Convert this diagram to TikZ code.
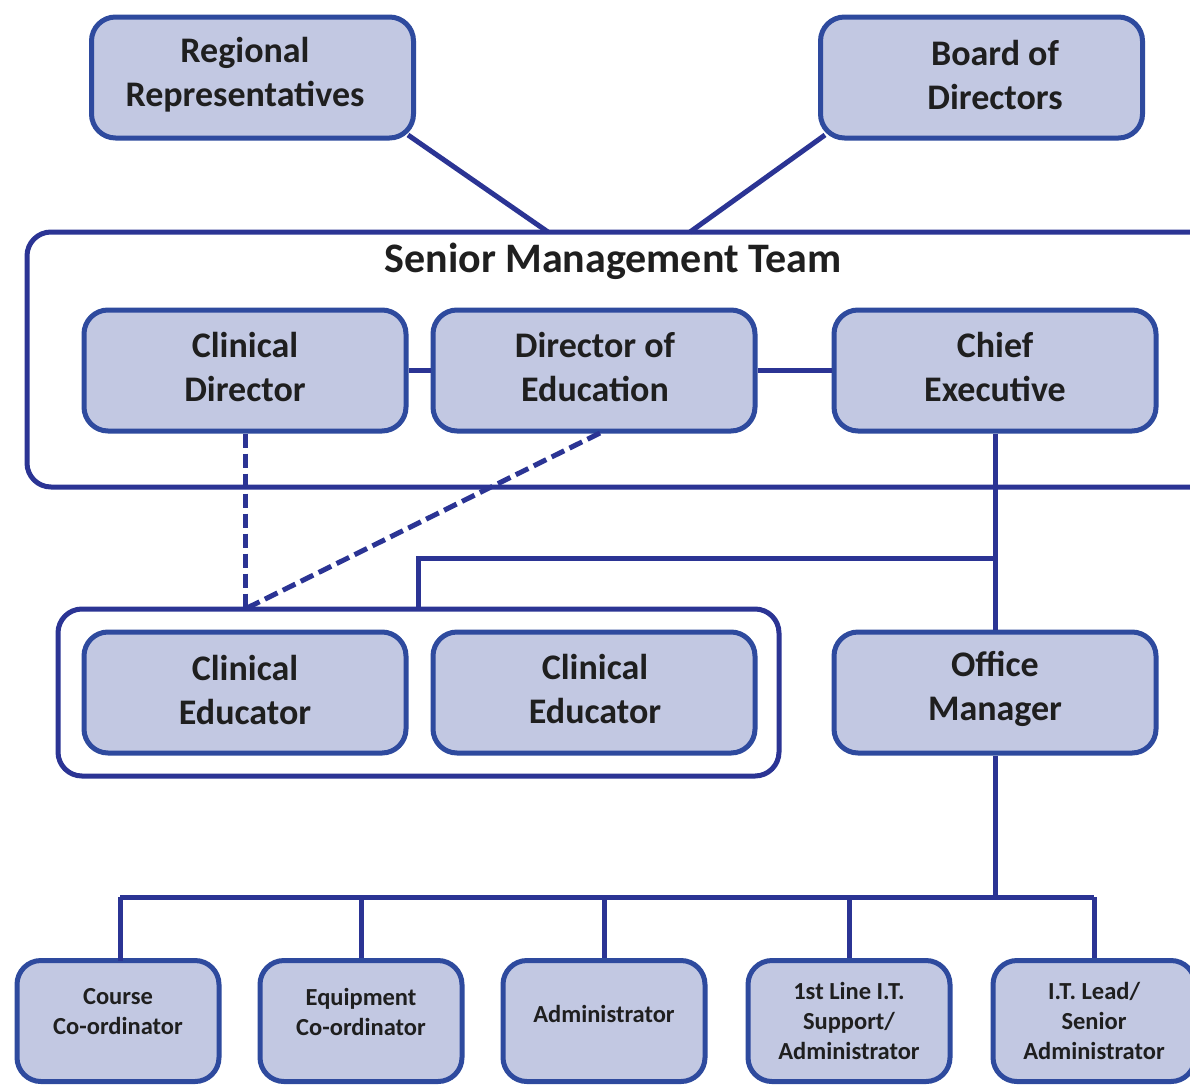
\documentclass[tikz,border=0pt]{standalone}
\usepackage{fontspec}
\setmainfont{Carlito}
\definecolor{boxfill}{RGB}{194,200,226}
\definecolor{boxedge}{RGB}{46,74,158}
\definecolor{linecol}{RGB}{43,52,148}
\tikzset{
  unit/.style={draw=boxedge, line width=5pt, fill=boxfill, rounded corners=24pt, inner sep=0pt},
  bigbox/.style={unit, minimum width=322pt, minimum height=121pt},
  smallbox/.style={unit, minimum width=202pt, minimum height=121pt},
  bigtext/.style={font=\fontsize{36}{44}\selectfont\bfseries, align=center, text=black!88, inner sep=0pt},
  smalltext/.style={font=\fontsize{24.5}{30}\selectfont\bfseries, align=center, text=black!88, inner sep=0pt},
  group/.style={draw=linecol, line width=5pt, rounded corners=24pt},
  conn/.style={draw=linecol, line width=5pt},
  dconn/.style={conn, dash pattern=on 14pt off 6pt},
}
\begin{document}
\begin{tikzpicture}[x=1pt,y=-1pt]
\useasboundingbox (0,0) rectangle (1190,1084);
\clip (0,0) rectangle (1190,1084);
\fill[white] (0,0) rectangle (1190,1084);
% containers
\draw[group] (27,232) rectangle (1215,487);
\node[font=\fontsize{42}{44}\selectfont\bfseries, text=black!88, inner sep=0pt] (smt) at (613,261) {Senior Management Team};
\draw[group] (58,609) rectangle (779,776);
% top boxes
\node[bigbox] (rr) at (252.5,77.5) {};
\node[bigbox] (bd) at (981.5,77.5) {};
\node[bigtext] (rrt) at (245,75) {Regional\\Representatives};
\node[bigtext] (bdt) at (995,75) {Board of\\Directors};
% connectors to SMT
\coordinate (smtL) at (548,232);
\coordinate (smtR) at (690,232);
\coordinate (rrfoot) at (408,135);
\coordinate (bdfoot) at (825,135);
\draw[conn] (rrfoot) -- (smtL);
\draw[conn] (bdfoot) -- (smtR);
% SMT boxes
\node[bigbox] (cd) at (245,370.5) {};
\node[bigbox] (de) at (594,370.5) {};
\node[bigbox] (ce) at (995,370.5) {};
\node[bigtext] (cdt) at (245,367) {Clinical\\Director};
\node[bigtext] (det) at (595,367) {Director of\\Education};
\node[bigtext] (cet) at (995,367) {Chief\\Executive};
\draw[conn] (cd.east) -- (de.west);
\draw[conn] (de.east) -- (ce.west);
% educators
\node[bigbox] (e1) at (245,692.5) {};
\node[bigbox] (e2) at (594,692.5) {};
\node[bigbox] (om) at (995,692.5) {};
\node[bigtext] (e1t) at (245,690) {Clinical\\Educator};
\node[bigtext] (e2t) at (595,689) {Clinical\\Educator};
\node[bigtext] (omt) at (995,689) {Office\\Manager};
\coordinate (gtop) at (418,609);
\coordinate (gdash) at (245,609);
\coordinate (branch) at (995,558);
\coordinate (defoot) at (600,433);
\draw[conn] (ce.south) -- (om.north);
\draw[conn] (branch) -- (418,558) -- (gtop);
\draw[dconn] (cd.south) -- (gdash);
\draw[dconn] (defoot) -- (gdash);
% bottom row
\node[smallbox] (b1) at (118,1021) {};
\node[smallbox] (b2) at (361,1021) {};
\node[smallbox] (b3) at (604,1021) {};
\node[smallbox] (b4) at (849,1021) {};
\node[smallbox] (b5) at (1094,1021) {};
\node[smalltext] (b1t) at (118,1012) {Course\\Co-ordinator};
\node[smalltext] (b2t) at (361,1012) {Equipment\\Co-ordinator};
\node[smalltext] (b3t) at (604,1014) {Administrator};
\node[smalltext] (b4t) at (849,1021) {1st Line I.T.\\Support/\\Administrator};
\node[smalltext] (b5t) at (1094,1021) {I.T. Lead/\\Senior\\Administrator};
\coordinate (bus) at (995,897);
\coordinate (b1top) at (120,961);
\draw[conn] (om.south) -- (bus);
\draw[conn] (120,897) -- (1094,897);
\draw[conn] (120,897) -- (b1top);
\foreach \n/\x in {b2/361,b3/604,b4/849,b5/1094}{
  \draw[conn] (\x,897) -- (\n.north);
}
\end{tikzpicture}
\end{document}
